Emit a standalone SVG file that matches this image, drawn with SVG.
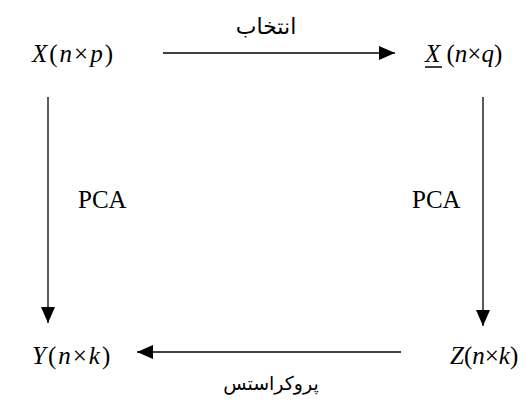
<svg xmlns="http://www.w3.org/2000/svg" width="523" height="401" viewBox="0 0 523 401">
<style>
.t{font-family:"Liberation Serif","Times New Roman",serif;font-size:25px;fill:#000}
.w{letter-spacing:2px}
.i{font-style:italic}
.fa{font-family:"DejaVu Sans","Noto Sans",sans-serif;fill:#000}
.c{stroke:#000;stroke-width:1.3;fill:none}
</style>
<defs>
<marker id="ah" markerWidth="16" markerHeight="14" refX="16" refY="7" orient="auto" markerUnits="userSpaceOnUse">
<path d="M0,0 L16,7 L0,14 Z" fill="#000"/>
</marker>
</defs>
<rect width="523" height="401" fill="#fff"/>
<g id="connectors">
<line class="c" x1="163" y1="53" x2="395" y2="53" marker-end="url(#ah)"/>
<line class="c" x1="48" y1="97" x2="48" y2="323" marker-end="url(#ah)"/>
<line class="c" x1="483" y1="97" x2="483" y2="326" marker-end="url(#ah)"/>
<line class="c" x1="401" y1="352" x2="137" y2="352" marker-end="url(#ah)"/>
</g>
<g id="nodeX"><text class="t w" x="32" y="62"><tspan class="i">X</tspan>(<tspan class="i">n</tspan>×<tspan class="i">p</tspan>)</text></g>
<g id="nodeXq"><text class="t" x="425" y="62"><tspan class="i">X</tspan> (<tspan class="i">n</tspan>×<tspan class="i">q</tspan>)</text>
<line x1="425" y1="67" x2="442" y2="67" stroke="#000" stroke-width="1.5"/></g>
<g id="nodeY"><text class="t w" x="32" y="364"><tspan class="i">Y</tspan>(<tspan class="i">n</tspan>×<tspan class="i">k</tspan>)</text></g>
<g id="nodeZ"><text class="t" x="450" y="364"><tspan class="i">Z</tspan>(<tspan class="i">n</tspan>×<tspan class="i">k</tspan>)</text></g>
<g id="labels">
<text class="fa" x="266" y="34" font-size="22" text-anchor="middle" direction="rtl">انتخاب</text>
<text class="t" x="78" y="208">PCA</text>
<text class="t" x="412" y="208">PCA</text>
<text class="fa" x="271" y="390" font-size="19" text-anchor="middle" direction="rtl">پروکراستس</text>
</g>
</svg>
